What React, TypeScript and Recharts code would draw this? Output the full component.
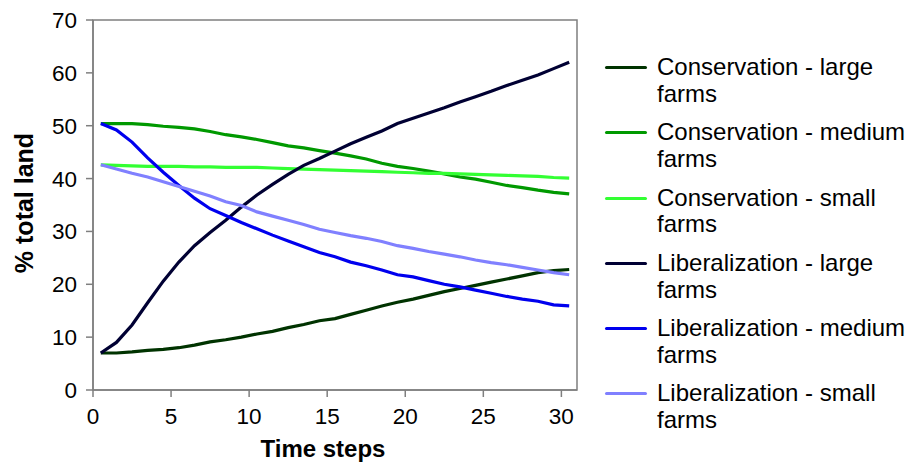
import React from 'react'
import { LineChart, Line, XAxis, YAxis, ReferenceArea } from 'recharts'

const timeSteps = [
  0.5, 1.5, 2.5, 3.5, 4.5, 5.5, 6.5, 7.5, 8.5, 9.5, 10.5, 11.5, 12.5, 13.5, 14.5, 15.5,
  16.5, 17.5, 18.5, 19.5, 20.5, 21.5, 22.5, 23.5, 24.5, 25.5, 26.5, 27.5, 28.5, 29.5, 30.5
]

const consLarge = [
  7.0, 7.0, 7.2, 7.5, 7.7, 8.0, 8.5, 9.1, 9.5, 10.0, 10.6, 11.1, 11.8, 12.4, 13.1, 13.5,
  14.3, 15.1, 15.9, 16.6, 17.2, 17.9, 18.6, 19.2, 19.8, 20.4, 21.0, 21.6, 22.2, 22.6, 22.8
]
const consMedium = [
  50.4, 50.4, 50.4, 50.2, 49.9, 49.7, 49.4, 48.9, 48.3, 47.9, 47.4, 46.8, 46.2, 45.8, 45.3, 44.8,
  44.3, 43.7, 42.9, 42.3, 41.9, 41.4, 40.9, 40.3, 39.9, 39.3, 38.7, 38.3, 37.8, 37.4, 37.1
]
const consSmall = [
  42.6, 42.5, 42.4, 42.3, 42.3, 42.3, 42.2, 42.2, 42.1, 42.1, 42.1, 42.0, 41.9, 41.8, 41.7, 41.6,
  41.5, 41.4, 41.3, 41.2, 41.1, 41.0, 41.0, 40.9, 40.8, 40.7, 40.6, 40.5, 40.4, 40.2, 40.1
]
const libLarge = [
  7.0, 9.0, 12.3, 16.5, 20.6, 24.2, 27.3, 29.8, 32.1, 34.6, 36.9, 38.9, 40.8, 42.5, 43.8, 45.2,
  46.6, 47.8, 49.0, 50.4, 51.4, 52.4, 53.4, 54.5, 55.5, 56.5, 57.6, 58.6, 59.6, 60.8, 62.0
]
const libMedium = [
  50.4, 49.2, 46.9, 43.9, 41.2, 38.7, 36.3, 34.3, 33.0, 31.7, 30.5, 29.3, 28.2, 27.1, 26.0, 25.2,
  24.2, 23.5, 22.7, 21.8, 21.4, 20.7, 20.0, 19.5, 18.9, 18.3, 17.7, 17.2, 16.8, 16.1, 15.9
]
const libSmall = [
  42.6, 41.8, 41.0, 40.3, 39.4, 38.5, 37.6, 36.7, 35.6, 34.9, 33.7, 32.9, 32.1, 31.3, 30.4, 29.8,
  29.2, 28.7, 28.1, 27.3, 26.8, 26.2, 25.7, 25.2, 24.6, 24.1, 23.7, 23.2, 22.7, 22.2, 21.8
]

const xTicks = [0, 5, 10, 15, 20, 25, 30]
const yTicks = [0, 10, 20, 30, 40, 50, 60, 70]

const series = [
  { key: 'consLarge', name: 'Conservation - large farms', color: '#003300', values: consLarge },
  { key: 'consMedium', name: 'Conservation - medium farms', color: '#009900', values: consMedium },
  { key: 'consSmall', name: 'Conservation - small farms', color: '#33ff33', values: consSmall },
  { key: 'libLarge', name: 'Liberalization - large farms', color: '#000033', values: libLarge },
  { key: 'libMedium', name: 'Liberalization - medium farms', color: '#0000ee', values: libMedium },
  { key: 'libSmall', name: 'Liberalization - small farms', color: '#8080ff', values: libSmall }
]

const data = timeSteps.map((t, i) => {
  const row: Record<string, number> = { t }
  series.forEach(s => { row[s.key] = s.values[i] })
  return row
})

const FONT = '"Liberation Sans", Arial, sans-serif'
const axisGrey = '#7f7f7f'

const App = () => {
  return (
    <div style={{ position: 'relative', width: 909, height: 456, fontFamily: FONT }}>
      <LineChart
        width={580}
        height={456}
        data={data}
        margin={{ top: 12, right: 11, left: 0, bottom: 0 }}
      >
        <XAxis
          dataKey="t"
          type="number"
          domain={[0, 31]}
          ticks={xTicks}
          interval={0}
          height={74}
          tickSize={7}
          tickMargin={11}
          stroke={axisGrey}
          strokeWidth={1.5}
          tick={{ fill: '#000', fontSize: 22.5, fontFamily: FONT }}
          label={{
            position: 'insideBottom',
            content: (p: any) => (
              <text
                x={p.viewBox.x + p.viewBox.width / 2 - 12}
                y={449}
                textAnchor="middle"
                fontSize={24}
                fontWeight="bold"
                fontFamily={FONT}
                fill="#000"
              >
                Time steps
              </text>
            )
          }}
        />
        <YAxis
          domain={[0, 70]}
          ticks={yTicks}
          interval={0}
          width={85}
          tickSize={7}
          tickMargin={9}
          stroke={axisGrey}
          strokeWidth={1.5}
          tick={{ fill: '#000', fontSize: 22.5, fontFamily: FONT }}
          label={{
            position: 'insideLeft',
            content: (p: any) => {
              const cx = 16
              const cy = p.viewBox.y + p.viewBox.height / 2 - 2
              return (
                <text
                  x={cx}
                  y={cy}
                  transform={`rotate(-90, ${cx}, ${cy})`}
                  textAnchor="middle"
                  dominantBaseline="central"
                  fontSize={25}
                  fontWeight="bold"
                  fontFamily={FONT}
                  fill="#000"
                >
                  % total land
                </text>
              )
            }
          }}
        />
        <ReferenceArea x1={0} x2={31} y1={0} y2={70} fill="none" stroke={axisGrey} strokeWidth={1.5} />
        {series.map(s => (
          <Line
            key={s.key}
            dataKey={s.key}
            name={s.name}
            stroke={s.color}
            strokeWidth={3.2}
            dot={false}
            type="linear"
            isAnimationActive={false}
          />
        ))}
      </LineChart>
      {series.map((s, i) => (
        <div
          key={s.key}
          style={{
            position: 'absolute',
            left: 597,
            top: 59.3 + i * 65.3 - 13.35,
            display: 'flex',
            alignItems: 'flex-start'
          }}
        >
          <span
            style={{
              display: 'block',
              width: 42,
              height: 3,
              marginTop: 12,
              marginRight: 10,
              background: s.color,
              borderRadius: 1.5
            }}
          />
          <div style={{ width: 258, fontSize: 24, lineHeight: '26.7px', color: '#000' }}>{s.name}</div>
        </div>
      ))}
    </div>
  )
}

export default App
